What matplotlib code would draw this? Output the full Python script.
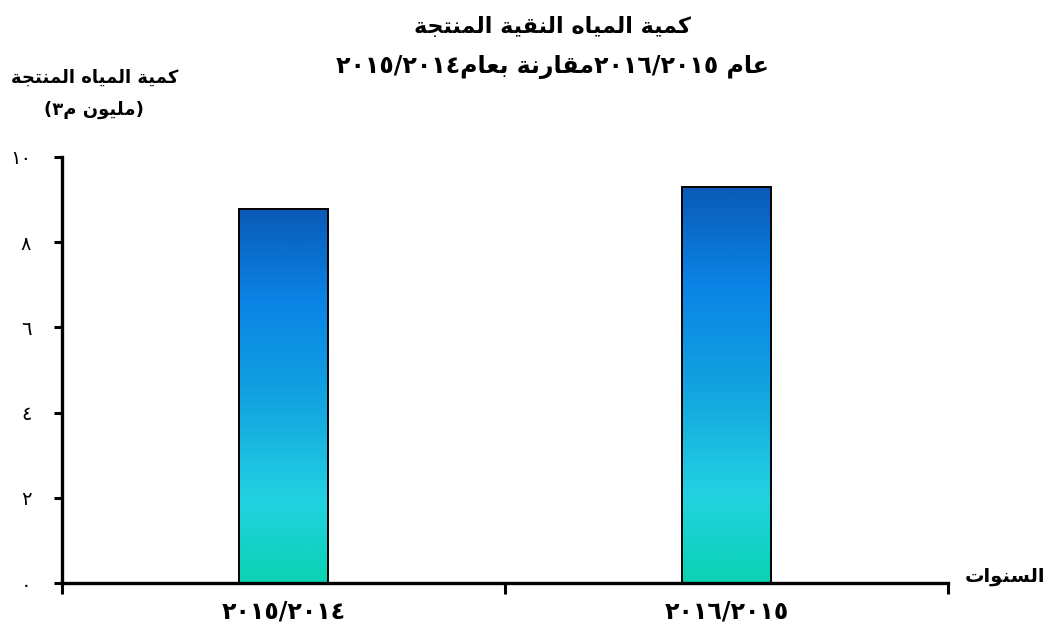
import numpy as np
import matplotlib
matplotlib.use("Agg")
import matplotlib.pyplot as plt
from matplotlib.colors import LinearSegmentedColormap

# ---------------- data ----------------
categories = ["٢٠١٥/٢٠١٤", "٢٠١٦/٢٠١٥"]          # visual order of digits
values = [8.78, 9.30]
yticks = [0, 2, 4, 6, 8, 10]
ytick_labels = ["٠", "٢", "٤", "٦", "٨", "١٠"]

# ---------------- minimal Arabic shaping ----------------
FORMS = {
    'ا': ('\uFE8D', '\uFE8E', None, None),
    'ب': ('\uFE8F', '\uFE90', '\uFE91', '\uFE92'),
    'ة': ('\uFE93', '\uFE94', None, None),
    'ت': ('\uFE95', '\uFE96', '\uFE97', '\uFE98'),
    'ج': ('\uFE9D', '\uFE9E', '\uFE9F', '\uFEA0'),
    'ر': ('\uFEAD', '\uFEAE', None, None),
    'س': ('\uFEB1', '\uFEB2', '\uFEB3', '\uFEB4'),
    'ع': ('\uFEC9', '\uFECA', '\uFECB', '\uFECC'),
    'ق': ('\uFED5', '\uFED6', '\uFED7', '\uFED8'),
    'ك': ('\uFED9', '\uFEDA', '\uFEDB', '\uFEDC'),
    'ل': ('\uFEDD', '\uFEDE', '\uFEDF', '\uFEE0'),
    'م': ('\uFEE1', '\uFEE2', '\uFEE3', '\uFEE4'),
    'ن': ('\uFEE5', '\uFEE6', '\uFEE7', '\uFEE8'),
    'ه': ('\uFEE9', '\uFEEA', '\uFEEB', '\uFEEC'),
    'و': ('\uFEED', '\uFEEE', None, None),
    'ي': ('\uFEF1', '\uFEF2', '\uFEF3', '\uFEF4'),
}


def dual(c):
    return c in FORMS and FORMS[c][2] is not None


def shape_word(w):
    out = []
    for i, c in enumerate(w):
        if c not in FORMS:
            out.append(c)
            continue
        prev_j = i > 0 and dual(w[i - 1])
        next_j = dual(c) and i < len(w) - 1 and w[i + 1] in FORMS
        iso, fin, ini, med = FORMS[c]
        if prev_j and next_j:
            out.append(med)
        elif prev_j:
            out.append(fin)
        elif next_j:
            out.append(ini)
        else:
            out.append(iso)
    return "".join(reversed(out))


def rtl(text):
    return " ".join(shape_word(w) for w in reversed(text.split(" ")))


title1 = rtl("كمية المياه النقية المنتجة")
title2 = ("٢٠١٥/٢٠١٤" + shape_word("بعام") + " " + shape_word("مقارنة")
          + "٢٠١٦/٢٠١٥" + " " + shape_word("عام"))
ylab1 = rtl("كمية المياه المنتجة")
ylab2 = "(" + "٣" + shape_word("م") + " " + shape_word("مليون") + ")"
xlab = rtl("السنوات")

plt.rcParams['font.family'] = ['DejaVu Sans']

fig = plt.figure(figsize=(10.49, 6.30), dpi=100)
ax = fig.add_axes([0.0591, 0.0746, 0.8446, 0.6762])

x = np.arange(len(categories))
bars = ax.bar(x, values, width=0.2, color='none', edgecolor='black',
              linewidth=1.4, zorder=3)

cmap = LinearSegmentedColormap.from_list(
    "g", [(0.0, "#0a5ab6"), (0.25, "#0a84e6"), (0.5, "#12a2e0"),
          (0.78, "#22d2e2"), (1.0, "#0ad2b2")])
grad = np.linspace(0, 1, 256).reshape(-1, 1)
for b in bars:
    bb = b.get_bbox()
    im = ax.imshow(grad, cmap=cmap, aspect='auto',
                   extent=[bb.x0, bb.x1, bb.y0, bb.y1], origin='upper',
                   zorder=2)
    im.set_clip_path(b)

ax.set_xlim(-0.5, 1.5)
ax.set_ylim(0, 10)
ax.set_yticks(yticks)
ax.set_yticklabels(ytick_labels, fontsize=14)
ax.tick_params(axis='y', direction='out', length=6, width=2.2, pad=16)
ax.set_xticks(x)
ax.set_xticklabels(categories, fontsize=17, fontweight='bold')
ax.tick_params(axis='x', length=0, pad=12)
ax.set_xticks([-0.5, 0.5, 1.5], minor=True)
ax.tick_params(axis='x', which='minor', direction='out', length=8, width=2.2)

for s in ['top', 'right']:
    ax.spines[s].set_visible(False)
for s in ['left', 'bottom']:
    ax.spines[s].set_linewidth(2.4)

fig.text(0.527, 0.958, title1, ha='center', va='center', fontsize=16,
         fontweight='bold')
fig.text(0.527, 0.894, title2, ha='center', va='center', fontsize=17,
         fontweight='bold')
fig.text(0.09, 0.877, ylab1, ha='center', va='center', fontsize=13,
         fontweight='bold')
fig.text(0.09, 0.825, ylab2, ha='center', va='center', fontsize=13,
         fontweight='bold')
fig.text(0.958, 0.085, xlab, ha='center', va='center', fontsize=14,
         fontweight='bold')

fig.savefig("out.png", dpi=100, facecolor='white')
